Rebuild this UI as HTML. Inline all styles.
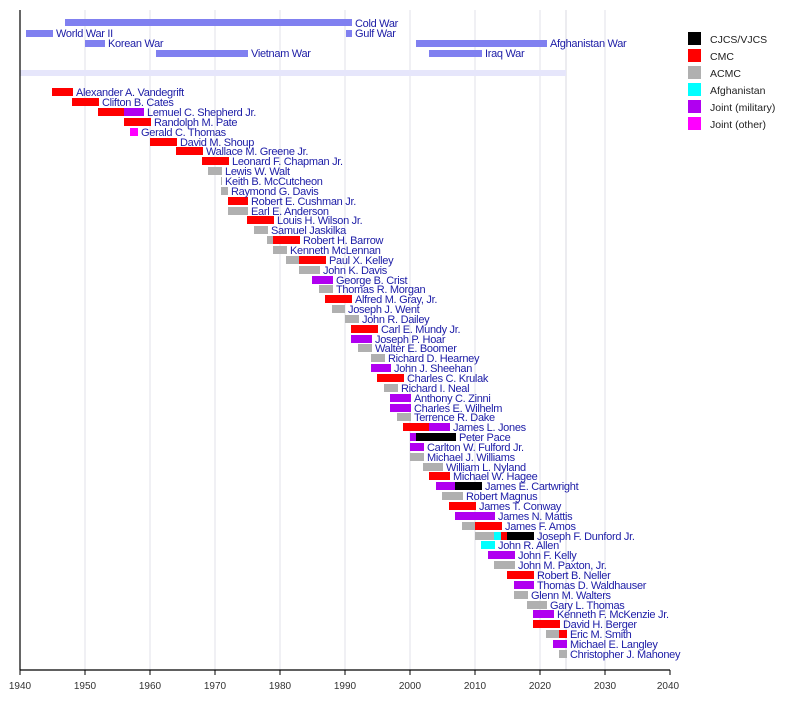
<!DOCTYPE html>
<html><head><meta charset="utf-8"><style>
html,body{margin:0;padding:0;background:#fff;}
svg{display:block;font-family:"Liberation Sans",sans-serif;}
.l{font-size:11px;fill:#1c1ca6;letter-spacing:-0.3px;}
.g{stroke:#e2e2ea;stroke-width:1;}
.t{font-size:10px;fill:#333;}
.lg{font-size:10.5px;fill:#222;}
</style></head><body>
<svg width="800" height="720" viewBox="0 0 800 720">
<g class="g">
<line x1="85" y1="10" x2="85" y2="670"/><line x1="150" y1="10" x2="150" y2="670"/><line x1="215" y1="10" x2="215" y2="670"/><line x1="280" y1="10" x2="280" y2="670"/><line x1="345" y1="10" x2="345" y2="670"/><line x1="410" y1="10" x2="410" y2="670"/><line x1="475" y1="10" x2="475" y2="670"/><line x1="540" y1="10" x2="540" y2="670"/><line x1="605" y1="10" x2="605" y2="670"/><line x1="566" y1="10" x2="566" y2="670" style="stroke:#d8d8e0"/>
</g>
<rect x="20" y="70" width="546" height="6" fill="#e6e6fb"/>
<g fill="#8080f0">
<rect x="65" y="19" width="287" height="7"/><rect x="26" y="30" width="27" height="7"/><rect x="346" y="30" width="6" height="7"/><rect x="85" y="40" width="20" height="7"/><rect x="156" y="50" width="92" height="7"/><rect x="416" y="40" width="131" height="7"/><rect x="429" y="50" width="53" height="7"/>
</g>
<g class="l">
<text x="355" y="27">Cold War</text><text x="56" y="37">World War II</text><text x="355" y="37">Gulf War</text><text x="108" y="47">Korean War</text><text x="251" y="57">Vietnam War</text><text x="550" y="47">Afghanistan War</text><text x="485" y="57">Iraq War</text>
</g>
<g>
<rect x="52" y="88" width="21" height="8" fill="#f00"/>
<rect x="72" y="98" width="27" height="8" fill="#f00"/>
<rect x="98" y="108" width="26" height="8" fill="#f00"/><rect x="124" y="108" width="20" height="8" fill="#b000f0"/>
<rect x="124" y="118" width="27" height="8" fill="#f00"/>
<rect x="130" y="128" width="8" height="8" fill="#f0f"/>
<rect x="150" y="138" width="27" height="8" fill="#f00"/>
<rect x="176" y="147" width="27" height="8" fill="#f00"/>
<rect x="202" y="157" width="27" height="8" fill="#f00"/>
<rect x="208" y="167" width="14" height="8" fill="#b0b0b0"/>
<rect x="221" y="177" width="1" height="8" fill="#b0b0b0"/>
<rect x="221" y="187" width="7" height="8" fill="#b0b0b0"/>
<rect x="228" y="197" width="20" height="8" fill="#f00"/>
<rect x="228" y="207" width="20" height="8" fill="#b0b0b0"/>
<rect x="247" y="216" width="27" height="8" fill="#f00"/>
<rect x="254" y="226" width="14" height="8" fill="#b0b0b0"/>
<rect x="267" y="236" width="6" height="8" fill="#b0b0b0"/><rect x="273" y="236" width="27" height="8" fill="#f00"/>
<rect x="273" y="246" width="14" height="8" fill="#b0b0b0"/>
<rect x="286" y="256" width="13" height="8" fill="#b0b0b0"/><rect x="299" y="256" width="27" height="8" fill="#f00"/>
<rect x="299" y="266" width="21" height="8" fill="#b0b0b0"/>
<rect x="312" y="276" width="21" height="8" fill="#b000f0"/>
<rect x="319" y="285" width="14" height="8" fill="#b0b0b0"/>
<rect x="325" y="295" width="27" height="8" fill="#f00"/>
<rect x="332" y="305" width="13" height="8" fill="#b0b0b0"/>
<rect x="345" y="315" width="14" height="8" fill="#b0b0b0"/>
<rect x="351" y="325" width="27" height="8" fill="#f00"/>
<rect x="351" y="335" width="21" height="8" fill="#b000f0"/>
<rect x="358" y="344" width="14" height="8" fill="#b0b0b0"/>
<rect x="371" y="354" width="14" height="8" fill="#b0b0b0"/>
<rect x="371" y="364" width="20" height="8" fill="#b000f0"/>
<rect x="377" y="374" width="27" height="8" fill="#f00"/>
<rect x="384" y="384" width="14" height="8" fill="#b0b0b0"/>
<rect x="390" y="394" width="21" height="8" fill="#b000f0"/>
<rect x="390" y="404" width="21" height="8" fill="#b000f0"/>
<rect x="397" y="413" width="14" height="8" fill="#b0b0b0"/>
<rect x="403" y="423" width="26" height="8" fill="#f00"/><rect x="429" y="423" width="21" height="8" fill="#b000f0"/>
<rect x="410" y="433" width="6" height="8" fill="#b000f0"/><rect x="416" y="433" width="40" height="8" fill="#000"/>
<rect x="410" y="443" width="14" height="8" fill="#b000f0"/>
<rect x="410" y="453" width="14" height="8" fill="#b0b0b0"/>
<rect x="423" y="463" width="20" height="8" fill="#b0b0b0"/>
<rect x="429" y="472" width="21" height="8" fill="#f00"/>
<rect x="436" y="482" width="19" height="8" fill="#b000f0"/><rect x="455" y="482" width="27" height="8" fill="#000"/>
<rect x="442" y="492" width="21" height="8" fill="#b0b0b0"/>
<rect x="449" y="502" width="27" height="8" fill="#f00"/>
<rect x="455" y="512" width="40" height="8" fill="#b000f0"/>
<rect x="462" y="522" width="13" height="8" fill="#b0b0b0"/><rect x="475" y="522" width="27" height="8" fill="#f00"/>
<rect x="475" y="532" width="19" height="8" fill="#b0b0b0"/><rect x="494" y="532" width="7" height="8" fill="#0ff"/><rect x="501" y="532" width="6" height="8" fill="#f00"/><rect x="507" y="532" width="27" height="8" fill="#000"/>
<rect x="481" y="541" width="14" height="8" fill="#0ff"/>
<rect x="488" y="551" width="27" height="8" fill="#b000f0"/>
<rect x="494" y="561" width="21" height="8" fill="#b0b0b0"/>
<rect x="507" y="571" width="27" height="8" fill="#f00"/>
<rect x="514" y="581" width="20" height="8" fill="#b000f0"/>
<rect x="514" y="591" width="14" height="8" fill="#b0b0b0"/>
<rect x="527" y="601" width="20" height="8" fill="#b0b0b0"/>
<rect x="533" y="610" width="21" height="8" fill="#b000f0"/>
<rect x="533" y="620" width="27" height="8" fill="#f00"/>
<rect x="546" y="630" width="13" height="8" fill="#b0b0b0"/><rect x="559" y="630" width="8" height="8" fill="#f00"/>
<rect x="553" y="640" width="14" height="8" fill="#b000f0"/>
<rect x="559" y="650" width="8" height="8" fill="#b0b0b0"/>
</g>
<g class="l">
<text x="76" y="96">Alexander A. Vandegrift</text>
<text x="102" y="106">Clifton B. Cates</text>
<text x="147" y="116">Lemuel C. Shepherd Jr.</text>
<text x="154" y="126">Randolph M. Pate</text>
<text x="141" y="136">Gerald C. Thomas</text>
<text x="180" y="146">David M. Shoup</text>
<text x="206" y="155">Wallace M. Greene Jr.</text>
<text x="232" y="165">Leonard F. Chapman Jr.</text>
<text x="225" y="175">Lewis W. Walt</text>
<text x="225" y="185">Keith B. McCutcheon</text>
<text x="231" y="195">Raymond G. Davis</text>
<text x="251" y="205">Robert E. Cushman Jr.</text>
<text x="251" y="215">Earl E. Anderson</text>
<text x="277" y="224">Louis H. Wilson Jr.</text>
<text x="271" y="234">Samuel Jaskilka</text>
<text x="303" y="244">Robert H. Barrow</text>
<text x="290" y="254">Kenneth McLennan</text>
<text x="329" y="264">Paul X. Kelley</text>
<text x="323" y="274">John K. Davis</text>
<text x="336" y="284">George B. Crist</text>
<text x="336" y="293">Thomas R. Morgan</text>
<text x="355" y="303">Alfred M. Gray, Jr.</text>
<text x="348" y="313">Joseph J. Went</text>
<text x="362" y="323">John R. Dailey</text>
<text x="381" y="333">Carl E. Mundy Jr.</text>
<text x="375" y="343">Joseph P. Hoar</text>
<text x="375" y="352">Walter E. Boomer</text>
<text x="388" y="362">Richard D. Hearney</text>
<text x="394" y="372">John J. Sheehan</text>
<text x="407" y="382">Charles C. Krulak</text>
<text x="401" y="392">Richard I. Neal</text>
<text x="414" y="402">Anthony C. Zinni</text>
<text x="414" y="412">Charles E. Wilhelm</text>
<text x="414" y="421">Terrence R. Dake</text>
<text x="453" y="431">James L. Jones</text>
<text x="459" y="441">Peter Pace</text>
<text x="427" y="451">Carlton W. Fulford Jr.</text>
<text x="427" y="461">Michael J. Williams</text>
<text x="446" y="471">William L. Nyland</text>
<text x="453" y="480">Michael W. Hagee</text>
<text x="485" y="490">James E. Cartwright</text>
<text x="466" y="500">Robert Magnus</text>
<text x="479" y="510">James T. Conway</text>
<text x="498" y="520">James N. Mattis</text>
<text x="505" y="530">James F. Amos</text>
<text x="537" y="540">Joseph F. Dunford Jr.</text>
<text x="498" y="549">John R. Allen</text>
<text x="518" y="559">John F. Kelly</text>
<text x="518" y="569">John M. Paxton, Jr.</text>
<text x="537" y="579">Robert B. Neller</text>
<text x="537" y="589">Thomas D. Waldhauser</text>
<text x="531" y="599">Glenn M. Walters</text>
<text x="550" y="609">Gary L. Thomas</text>
<text x="557" y="618">Kenneth F. McKenzie Jr.</text>
<text x="563" y="628">David H. Berger</text>
<text x="570" y="638">Eric M. Smith</text>
<text x="570" y="648">Michael E. Langley</text>
<text x="570" y="658">Christopher J. Mahoney</text>
</g>
<line x1="20" y1="10" x2="20" y2="670" stroke="#000" stroke-width="1.2"/>
<line x1="20" y1="670" x2="670" y2="670" stroke="#000" stroke-width="1.2"/>
<g stroke="#000"><line x1="20" y1="670" x2="20" y2="675"/><line x1="85" y1="670" x2="85" y2="675"/><line x1="150" y1="670" x2="150" y2="675"/><line x1="215" y1="670" x2="215" y2="675"/><line x1="280" y1="670" x2="280" y2="675"/><line x1="345" y1="670" x2="345" y2="675"/><line x1="410" y1="670" x2="410" y2="675"/><line x1="475" y1="670" x2="475" y2="675"/><line x1="540" y1="670" x2="540" y2="675"/><line x1="605" y1="670" x2="605" y2="675"/><line x1="670" y1="670" x2="670" y2="675"/></g>
<g class="t" text-anchor="middle">
<text x="20" y="689">1940</text><text x="85" y="689">1950</text><text x="150" y="689">1960</text><text x="215" y="689">1970</text><text x="280" y="689">1980</text><text x="345" y="689">1990</text><text x="410" y="689">2000</text><text x="475" y="689">2010</text><text x="540" y="689">2020</text><text x="605" y="689">2030</text><text x="668" y="689">2040</text>
</g>
<rect x="688" y="32" width="13" height="13" fill="#000"/>
<rect x="688" y="49" width="13" height="13" fill="#f00"/>
<rect x="688" y="66" width="13" height="13" fill="#b0b0b0"/>
<rect x="688" y="83" width="13" height="13" fill="#0ff"/>
<rect x="688" y="100" width="13" height="13" fill="#b000f0"/>
<rect x="688" y="117" width="13" height="13" fill="#f0f"/>
<g class="lg">
<text x="710" y="43">CJCS/VJCS</text><text x="710" y="60">CMC</text><text x="710" y="77">ACMC</text><text x="710" y="94">Afghanistan</text><text x="710" y="111">Joint (military)</text><text x="710" y="128">Joint (other)</text>
</g>
</svg>
</body></html>
